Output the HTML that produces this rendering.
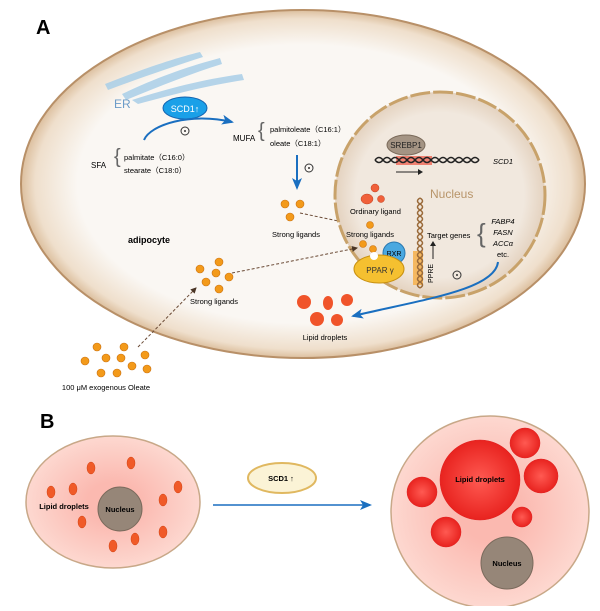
<!DOCTYPE html>
<html><head><meta charset="utf-8"><style>
body{margin:0;background:#fff;width:600px;height:606px;overflow:hidden}
text{font-family:"Liberation Sans",sans-serif}
</style></head><body>
<svg width="600" height="606" viewBox="0 0 600 606" xmlns="http://www.w3.org/2000/svg">
<defs>
<radialGradient id="cell" cx="50%" cy="50%" r="50%">
<stop offset="0.8" stop-color="#faf7f3"/><stop offset="0.95" stop-color="#efdfcc"/><stop offset="1" stop-color="#dcbf9e"/></radialGradient>
<radialGradient id="nuc" cx="50%" cy="50%" r="50%">
<stop offset="0.8" stop-color="#f1e8de"/><stop offset="1" stop-color="#e4d2bf"/></radialGradient>
<radialGradient id="pink" cx="50%" cy="50%" r="50%">
<stop offset="0.3" stop-color="#fbb9b0"/><stop offset="1" stop-color="#fdd8d0"/></radialGradient>
<radialGradient id="red" cx="50%" cy="50%" r="50%">
<stop offset="0" stop-color="#ff5a52"/><stop offset="1" stop-color="#e8231f"/></radialGradient>
<marker id="ab" markerUnits="userSpaceOnUse" markerWidth="12" markerHeight="10" refX="10" refY="5" orient="auto"><path d="M0,0 L12,5 L0,10 L3,5 Z" fill="#1a6fc0"/></marker>
<marker id="ad" markerUnits="userSpaceOnUse" markerWidth="6" markerHeight="6" refX="5" refY="3" orient="auto"><path d="M0,0 L6,3 L0,6 Z" fill="#4a3525"/></marker>
</defs>
<text x="36" y="34" font-size="20" font-weight="bold">A</text>
<ellipse cx="303" cy="184" rx="282" ry="174" fill="url(#cell)" stroke="#b89068" stroke-width="2"/>
<!-- ER -->
<g fill="#a9cfe8" opacity="0.85">
<path d="M105,84 C140,70 175,58 200,52 L203,57 C175,66 140,78 108,90 Z"/>
<path d="M122,94 C160,76 190,66 220,58 L222,64 C190,74 160,86 126,100 Z"/>
<path d="M132,100 C170,88 200,80 242,74 L244,80 C205,86 175,94 138,104 Z"/>
</g>
<text x="114" y="108" font-size="12" fill="#6c9cc8">ER</text>
<ellipse cx="185" cy="108" rx="22" ry="11" fill="#1aa0e8" stroke="#1464b0"/>
<text x="185" y="112" font-size="9" fill="#fff" text-anchor="middle">SCD1↑</text>
<path d="M144,140 C150,125 190,112 232,122" stroke="#1a6fc0" stroke-width="2" fill="none" marker-end="url(#ab)"/>
<circle cx="185" cy="131" r="4" fill="none" stroke="#333"/><circle cx="185" cy="131" r="1" fill="#333"/>
<text x="91" y="168" font-size="8">SFA</text>
<text x="114" y="163" font-size="20" fill="#666" font-weight="lighter">{</text>
<text x="124" y="160" font-size="7.5">palmitate（C16:0）</text>
<text x="124" y="173" font-size="7.5">stearate（C18:0）</text>
<text x="233" y="141" font-size="8">MUFA</text>
<text x="258" y="137" font-size="20" fill="#666">{</text>
<text x="270" y="132" font-size="7.5">palmitoleate（C16:1）</text>
<text x="270" y="146" font-size="7.5">oleate（C18:1）</text>
<path d="M297,155 L297,188" stroke="#1a6fc0" stroke-width="2" marker-end="url(#ab)"/>
<circle cx="309" cy="168" r="4" fill="none" stroke="#333"/><circle cx="309" cy="168" r="1" fill="#333"/>
<g fill="#f39a1a" stroke="#c97010" stroke-width="0.6">
<circle cx="285" cy="204" r="4"/><circle cx="300" cy="204" r="4"/><circle cx="290" cy="217" r="4"/>
</g>
<text x="296" y="237" font-size="7.5" text-anchor="middle">Strong ligands</text>
<path d="M300,213 L362,226" stroke="#6a4a35" stroke-dasharray="3,2" fill="none" marker-end="url(#ad)"/>
<text x="128" y="243" font-size="9" font-weight="bold">adipocyte</text>
<!-- nucleus -->
<ellipse cx="440" cy="195" rx="105" ry="103" fill="url(#nuc)" stroke="#c8a26a" stroke-width="3" stroke-dasharray="20,3"/>
<ellipse cx="406" cy="145" rx="19" ry="10" fill="#a49484" stroke="#7a6a5a"/>
<text x="406" y="148" font-size="8" text-anchor="middle" fill="#222">SREBP1</text>
<rect x="396" y="156" width="36" height="9" fill="#f08070"/>
<path d="M375,160 q4,-5 8,0 t8,0 t8,0 t8,0 t8,0 t8,0 t8,0 t8,0 t8,0 t8,0 t8,0 t8,0 t8,0" stroke="#222" stroke-width="1.5" fill="none"/>
<path d="M375,160 q4,5 8,0 t8,0 t8,0 t8,0 t8,0 t8,0 t8,0 t8,0 t8,0 t8,0 t8,0 t8,0 t8,0" stroke="#222" stroke-width="1.5" fill="none"/>
<path d="M396,172 L418,172" stroke="#222" stroke-width="1"/><path d="M418,169 L423,172 L418,175Z" fill="#222"/>
<text x="493" y="164" font-size="7.5" font-style="italic">SCD1</text>
<text x="430" y="198" font-size="12" fill="#b8956a">Nucleus</text>
<g fill="#f0603a" stroke="#c04020" stroke-width="0.5">
<circle cx="375" cy="188" r="4"/><ellipse cx="367" cy="199" rx="6" ry="5"/><circle cx="381" cy="199" r="3.5"/>
</g>
<text x="350" y="214" font-size="7.5">Ordinary ligand</text>
<g fill="#f39a1a" stroke="#c97010" stroke-width="0.6">
<circle cx="370" cy="225" r="3.5"/><circle cx="363" cy="244" r="3.5"/><circle cx="373" cy="249" r="3.5"/>
</g>
<text x="346" y="237" font-size="7.5">Strong ligands</text>
<rect x="413" y="251" width="10" height="34" fill="#f5b860"/>
<path d="M420,198 q-5,3 0,6 t0,6 t0,6 t0,6 t0,6 t0,6 t0,6 t0,6 t0,6 t0,6 t0,6 t0,6 t0,6 t0,6 t0,6" stroke="#9a6a3a" stroke-width="1.5" fill="none"/>
<path d="M420,198 q5,3 0,6 t0,6 t0,6 t0,6 t0,6 t0,6 t0,6 t0,6 t0,6 t0,6 t0,6 t0,6 t0,6 t0,6 t0,6" stroke="#9a6a3a" stroke-width="1.5" fill="none"/>
<circle cx="394" cy="253" r="11" fill="#4aa8e0" stroke="#2a78b0"/>
<text x="394" y="256" font-size="7" font-family="Liberation Serif" text-anchor="middle">RXR</text>
<ellipse cx="379" cy="269" rx="25" ry="14" fill="#f5c030" stroke="#c89010"/>
<circle cx="374" cy="256" r="4" fill="#fff"/>
<text x="380" y="273" font-size="8" font-family="Liberation Serif" text-anchor="middle" fill="#333">PPAR γ</text>
<text transform="translate(433,283) rotate(-90)" font-size="7">PPRE</text>
<path d="M433,259 L433,243" stroke="#222"/><path d="M430,246 L433,241 L436,246Z" fill="#222"/>
<text x="427" y="238" font-size="7.5">Target genes</text>
<text x="477" y="242" font-size="26" fill="#666" font-weight="lighter">{</text>
<g font-size="7.5" font-style="italic" text-anchor="middle">
<text x="503" y="224">FABP4</text><text x="503" y="235">FASN</text><text x="503" y="246">ACCα</text></g>
<text x="503" y="257" font-size="7.5" text-anchor="middle">etc.</text>
<circle cx="457" cy="275" r="4" fill="none" stroke="#333"/><circle cx="457" cy="275" r="1" fill="#333"/>
<path d="M498,262 C495,290 420,300 353,316" stroke="#1a6fc0" stroke-width="2" fill="none" marker-end="url(#ab)"/>
<path d="M232,273 L357,248" stroke="#6a4a35" stroke-dasharray="3,2" fill="none" marker-end="url(#ad)"/>
<g fill="#f0542a">
<circle cx="304" cy="302" r="7"/><ellipse cx="328" cy="303" rx="5" ry="7"/><circle cx="347" cy="300" r="6"/>
<circle cx="317" cy="319" r="7"/><circle cx="337" cy="320" r="6"/>
</g>
<text x="325" y="340" font-size="7.5" text-anchor="middle">Lipid droplets</text>
<g fill="#f39a1a" stroke="#c97010" stroke-width="0.6">
<circle cx="200" cy="269" r="4"/><circle cx="219" cy="262" r="4"/><circle cx="216" cy="273" r="4"/>
<circle cx="229" cy="277" r="4"/><circle cx="206" cy="282" r="4"/><circle cx="219" cy="289" r="4"/>
<circle cx="97" cy="347" r="4"/><circle cx="124" cy="347" r="4"/><circle cx="85" cy="361" r="4"/><circle cx="106" cy="358" r="4"/>
<circle cx="121" cy="358" r="4"/><circle cx="145" cy="355" r="4"/><circle cx="132" cy="366" r="4"/><circle cx="101" cy="373" r="4"/>
<circle cx="117" cy="373" r="4"/><circle cx="147" cy="369" r="4"/>
</g>
<text x="214" y="304" font-size="7.5" text-anchor="middle">Strong ligands</text>
<path d="M138,347 L196,288" stroke="#6a4a35" stroke-dasharray="3,2" fill="none" marker-end="url(#ad)"/>
<text x="106" y="390" font-size="7.5" text-anchor="middle">100 μM exogenous Oleate</text>
<!-- B -->
<text x="40" y="428" font-size="20" font-weight="bold">B</text>
<ellipse cx="113" cy="502" rx="87" ry="66" fill="url(#pink)" stroke="#c8a888" stroke-width="1.5"/>
<g fill="#f05a28" stroke="#d04010" stroke-width="0.5">
<ellipse cx="91" cy="468" rx="4" ry="6"/><ellipse cx="131" cy="463" rx="4" ry="6"/><ellipse cx="178" cy="487" rx="4" ry="6"/>
<ellipse cx="51" cy="492" rx="4" ry="6"/><ellipse cx="73" cy="489" rx="4" ry="6"/><ellipse cx="163" cy="500" rx="4" ry="6"/>
<ellipse cx="82" cy="522" rx="4" ry="6"/><ellipse cx="163" cy="532" rx="4" ry="6"/><ellipse cx="135" cy="539" rx="4" ry="6"/><ellipse cx="113" cy="546" rx="4" ry="6"/>
</g>
<circle cx="120" cy="509" r="22" fill="#968678" stroke="#7a6a5c"/>
<text x="120" y="512" font-size="7.5" font-weight="bold" text-anchor="middle">Nucleus</text>
<text x="64" y="509" font-size="7.5" font-weight="bold" text-anchor="middle">Lipid droplets</text>
<ellipse cx="282" cy="478" rx="34" ry="15" fill="#fbf3d6" stroke="#e0b860" stroke-width="2"/>
<text x="281" y="481" font-size="7.5" font-weight="bold" text-anchor="middle">SCD1 ↑</text>
<path d="M213,505 L370,505" stroke="#1a6fc0" stroke-width="1.5" marker-end="url(#ab)"/>
<ellipse cx="490" cy="512" rx="99" ry="96" fill="url(#pink)" stroke="#c8a888" stroke-width="1.5"/>
<g fill="url(#red)" stroke="#e02020" stroke-width="0.5">
<circle cx="480" cy="480" r="40"/><circle cx="525" cy="443" r="15"/><circle cx="541" cy="476" r="17"/>
<circle cx="422" cy="492" r="15"/><circle cx="446" cy="532" r="15"/><circle cx="522" cy="517" r="10"/>
</g>
<text x="480" y="482" font-size="7.5" font-weight="bold" text-anchor="middle">Lipid droplets</text>
<circle cx="507" cy="563" r="26" fill="#968678" stroke="#7a6a5c"/>
<text x="507" y="566" font-size="7.5" font-weight="bold" text-anchor="middle">Nucleus</text>
</svg>
</body></html>
